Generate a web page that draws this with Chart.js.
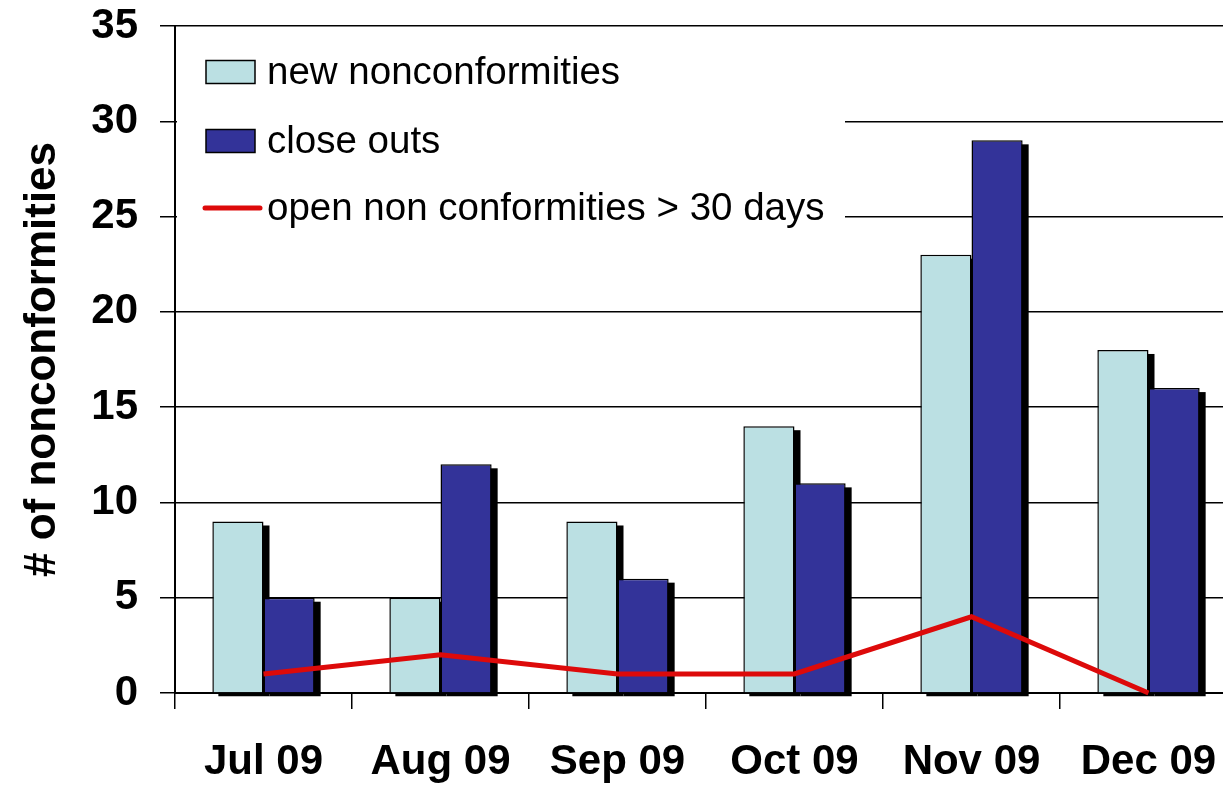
<!DOCTYPE html>
<html>
<head>
<meta charset="utf-8">
<script src="https://cdn.jsdelivr.net/npm/chart.js@4/dist/chart.umd.min.js"></script>
<style>
  html, body { margin: 0; padding: 0; background: #fff; overflow: hidden; }
  #wrap { width: 1240px; height: 787px; }
</style>
</head>
<body>
<div id="wrap"><canvas id="c" width="1240" height="787"></canvas></div>
<script>
// Monthly nonconformity tracking, Jul–Dec 2009
const months = ['Jul 09', 'Aug 09', 'Sep 09', 'Oct 09', 'Nov 09', 'Dec 09'];
const newNonconformities = [9, 5, 9, 14, 23, 18];
const closeOuts = [5, 12, 6, 11, 29, 16];
const openOver30Days = [1, 2, 1, 1, 4, 0];
const yTicks = [0, 5, 10, 15, 20, 25, 30, 35];

const FONT = '"Liberation Sans", Arial, sans-serif';

// Solid drop shadow behind each bar (offset right and down)
const barShadow = {
  id: 'barShadow',
  beforeDatasetsDraw(chart) {
    const ctx = chart.ctx;
    ctx.save();
    ctx.fillStyle = '#000';
    chart.data.datasets.forEach((ds, i) => {
      if (ds.type !== 'bar') return;
      const meta = chart.getDatasetMeta(i);
      meta.data.forEach(bar => {
        const p = bar.getProps(['x', 'y', 'base', 'width'], true);
        ctx.fillRect(p.x - p.width / 2 + 6, p.y + 4, p.width, p.base - p.y);
      });
    });
    ctx.restore();
  }
};

// Legend box inside the plot, top-left
const insideLegend = {
  id: 'insideLegend',
  afterDatasetsDraw(chart) {
    const ctx = chart.ctx;
    const a = chart.chartArea;
    ctx.save();
    ctx.fillStyle = '#fff';
    ctx.fillRect(a.left + 2, a.top + 3, 668, 222);
    const rows = [46, 115, 182];
    ctx.font = '38.5px ' + FONT;
    ctx.textBaseline = 'middle';
    chart.data.datasets.forEach((ds, i) => {
      const cy = a.top + rows[i];
      const sx = a.left + 31;
      if (ds.type === 'bar') {
        ctx.fillStyle = ds.backgroundColor;
        ctx.fillRect(sx, cy - 11.5, 49, 23);
        ctx.strokeStyle = '#000';
        ctx.lineWidth = 1.5;
        ctx.strokeRect(sx, cy - 11.5, 49, 23);
      } else {
        ctx.strokeStyle = ds.borderColor;
        ctx.lineWidth = 5;
        ctx.lineCap = 'round';
        ctx.beginPath();
        ctx.moveTo(sx - 1, cy);
        ctx.lineTo(sx + 54, cy);
        ctx.stroke();
      }
      ctx.fillStyle = '#000';
      ctx.fillText(ds.label, a.left + 92, cy + 1);
    });
    ctx.restore();
  }
};

new Chart(document.getElementById('c'), {
  data: {
    labels: months,
    datasets: [
      {
        type: 'bar',
        label: 'new nonconformities',
        data: newNonconformities,
        backgroundColor: '#BBE0E3',
        borderColor: '#000',
        borderWidth: 1.5,
        categoryPercentage: 0.578,
        barPercentage: 1.0,
        order: 1
      },
      {
        type: 'bar',
        label: 'close outs',
        data: closeOuts,
        backgroundColor: '#333399',
        borderColor: '#000',
        borderWidth: 1.5,
        categoryPercentage: 0.578,
        barPercentage: 1.0,
        order: 1
      },
      {
        type: 'line',
        label: 'open non conformities > 30 days',
        data: openOver30Days,
        borderColor: '#DD0A0A',
        borderWidth: 5,
        pointRadius: 0,
        tension: 0,
        clip: 10,
        order: 0
      }
    ]
  },
  options: {
    responsive: false,
    animation: false,
    devicePixelRatio: 1,
    layout: { padding: { top: 26, left: 0, right: 3, bottom: 0 } },
    plugins: {
      legend: { display: false },
      tooltip: { enabled: false }
    },
    scales: {
      x: {
        offset: true,
        grid: {
          offset: true,
          drawOnChartArea: false,
          drawTicks: true,
          tickLength: 16,
          color: '#000',
          lineWidth: 1.5
        },
        border: { display: true, color: '#000', width: 2 },
        ticks: {
          color: '#000',
          font: { family: FONT, size: 42, weight: 'bold' },
          padding: 28,
          maxRotation: 0,
          autoSkip: false
        },
        afterFit(s) { s.height = 94; s.paddingLeft = 0; s.paddingRight = 0; }
      },
      y: {
        min: 0,
        max: 35,
        afterBuildTicks(s) { s.ticks = yTicks.map(v => ({ value: v })); },
        grid: {
          color: '#000',
          lineWidth: 1.5,
          tickLength: 15,
          drawTicks: true
        },
        border: { display: true, color: '#000', width: 2 },
        ticks: {
          color: '#000',
          font: { family: FONT, size: 42, weight: 'bold' },
          padding: 22
        },
        title: {
          display: true,
          text: '# of nonconformities',
          color: '#000',
          font: { family: FONT, size: 44, weight: 'bold' },
          padding: { top: 16, bottom: 0 }
        },
        afterFit(s) { s.width = 175; s.paddingTop = 0; s.paddingBottom = 0; }
      }
    }
  },
  plugins: [barShadow, insideLegend]
});
</script>
</body>
</html>
